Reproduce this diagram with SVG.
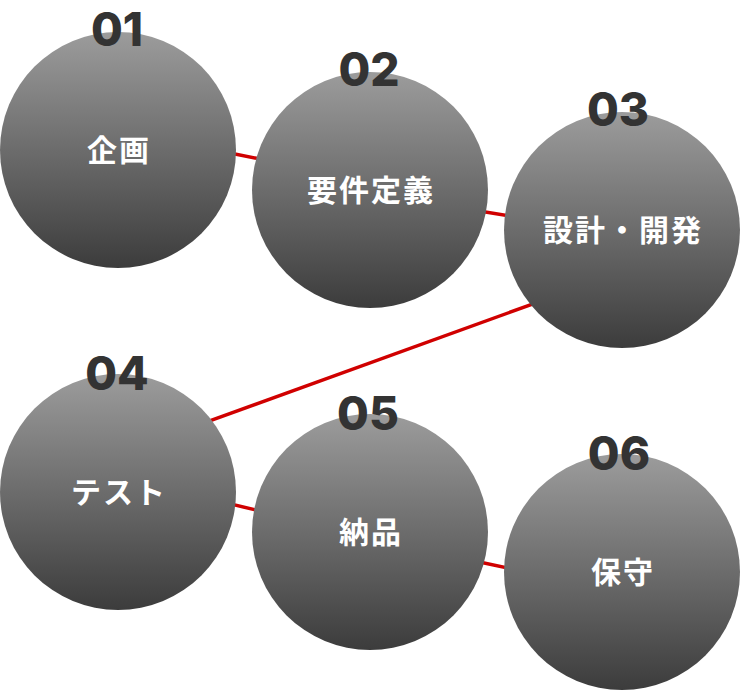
<svg xmlns="http://www.w3.org/2000/svg" width="740" height="690" viewBox="0 0 740 690">
  <defs>
    <linearGradient id="g" x1="0" y1="0" x2="0" y2="1">
      <stop offset="0" stop-color="#9c9c9c"/>
      <stop offset="1" stop-color="#3c3c3c"/>
    </linearGradient>
    <style>
      .c{fill:url(#g)}
      .lbl{font-family:"Noto Sans CJK JP","Noto Sans",sans-serif;font-weight:700;font-size:30px;fill:#fff;text-anchor:middle;letter-spacing:2px}
      .num{font-family:Inter,"Liberation Sans",sans-serif;font-weight:800;font-size:46px;fill:#333;text-anchor:middle}
      .ln{stroke:#d00000;stroke-width:3.5;fill:none}
    </style>
  </defs>
  <rect width="740" height="690" fill="#fff"/>
  <g id="connectors">
    <line class="ln" x1="220" y1="151" x2="270" y2="161"/>
    <line class="ln" x1="470" y1="209.5" x2="520" y2="217.5"/>
    <line class="ln" x1="200" y1="424.3" x2="545" y2="299.6"/>
    <line class="ln" x1="220" y1="501.4" x2="270" y2="513.4"/>
    <line class="ln" x1="470" y1="560" x2="520" y2="570.6"/>
  </g>
  <g id="node01">
    <circle class="c" cx="118" cy="150" r="118"/>
    <text class="lbl" x="119" y="161">企画</text>
    <text class="num" x="117" y="46">01</text>
  </g>
  <g id="node02">
    <circle class="c" cx="370" cy="190" r="118"/>
    <text class="lbl" x="371" y="201">要件定義</text>
    <text class="num" x="369" y="86">02</text>
  </g>
  <g id="node03">
    <circle class="c" cx="622" cy="230" r="118"/>
    <text class="lbl" x="623" y="241">設計・開発</text>
    <text class="num" x="618" y="126">03</text>
  </g>
  <g id="node04">
    <circle class="c" cx="118" cy="492" r="118"/>
    <text class="lbl" x="119" y="503">テスト</text>
    <text class="num" x="117" y="390">04</text>
  </g>
  <g id="node05">
    <circle class="c" cx="370" cy="532" r="118"/>
    <text class="lbl" x="371" y="543">納品</text>
    <text class="num" x="368" y="430">05</text>
  </g>
  <g id="node06">
    <circle class="c" cx="622" cy="572" r="118"/>
    <text class="lbl" x="623" y="583">保守</text>
    <text class="num" x="619" y="470">06</text>
  </g>
</svg>
